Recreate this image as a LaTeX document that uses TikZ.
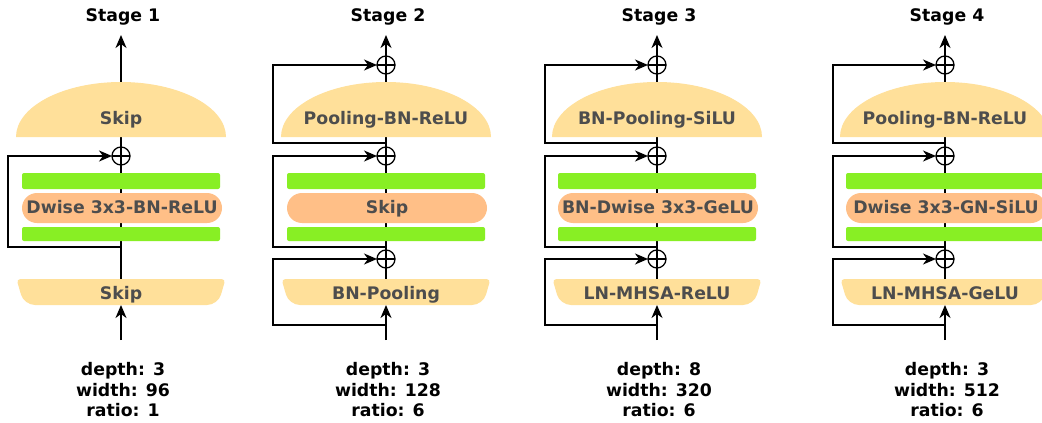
\documentclass[tikz,border=0pt]{standalone}
\usepackage{fontspec}
\setmainfont{DejaVu Sans}
\usetikzlibrary{arrows.meta}

\pgfdeclarelayer{paper}
\pgfdeclarelayer{wires}
\pgfsetlayers{paper,wires,main}

\definecolor{domefill}{HTML}{FFE09A}
\definecolor{pillfill}{HTML}{FFBF87}
\definecolor{barfill}{HTML}{88EF24}
\definecolor{labgray}{HTML}{4D4D4D}

\begin{document}
\begin{tikzpicture}[x=1pt,y=-1pt,
  every node/.style={inner sep=0pt, outer sep=0pt},
  boldtext/.style={font=\fontsize{17.3}{20.5}\selectfont\bfseries},
  headtext/.style={boldtext, text=black, anchor=base},
  labtext/.style={boldtext, text=labgray, anchor=base},
  stattext/.style={boldtext, text=black, align=center},
  wire/.style={line width=1.5pt, -{Stealth[length=13pt,width=11pt,inset=4pt]}},
  plainwire/.style={line width=1.5pt},
  sum/.style={circle, draw, line width=1.3pt, minimum size=18pt,
    path picture={\draw[line width=1.3pt]
      (path picture bounding box.north) -- (path picture bounding box.south)
      (path picture bounding box.west) -- (path picture bounding box.east);}},
  hull/.style={rectangle},
  barbox/.style={fill=barfill, rounded corners=2pt, minimum width=198pt},
  pillbox/.style={fill=pillfill, rounded corners=15pt, minimum width=200pt, minimum height=30pt},
]
\useasboundingbox (0,0) rectangle (1042,423);
\begin{pgfonlayer}{paper}
  \fill[white] (0,0) rectangle (1042,423);
\end{pgfonlayer}
\clip (0,0) rectangle (1042,423);

% one column per stage: title, top block, two bars round the middle block, bottom block, settings
\foreach \i/\cx/\dtxt/\ptxt/\btxt/\dep/\wid/\rat in {
  1/121/Skip/Dwise 3x3-BN-ReLU/Skip/3/96/1,
  2/386/Pooling-BN-ReLU/Skip/BN-Pooling/3/128/6,
  3/657/BN-Pooling-SiLU/BN-Dwise 3x3-GeLU/LN-MHSA-ReLU/8/320/6,
  4/945/Pooling-BN-ReLU/Dwise 3x3-GN-SiLU/LN-MHSA-GeLU/3/512/6}
{
  \node[headtext] (title\i) at (\cx+2,21) {Stage \i};

  % dome-shaped top block
  \fill[domefill] (\cx-105,137) arc[start angle=180, end angle=0, x radius=105pt, y radius=55pt] -- cycle;
  \node[hull, minimum width=210pt, minimum height=55pt] (dome\i) at (\cx,109.5) {};
  \node[labtext] (domelab\i) at (\cx,124) {\dtxt};

  % middle block between two bars
  \node[barbox, minimum height=16pt] (barA\i) at (\cx,181) {};
  \node[pillbox] (pill\i) at (\cx+1,208) {};
  \node[labtext] (pilllab\i) at (\cx+1,213.3) {\ptxt};
  \node[barbox, minimum height=14pt] (barB\i) at (\cx,234) {};

  % tapered bottom block
  \fill[domefill] (\cx,279) [rounded corners=4pt] -- (\cx+104.5,279)
    [rounded corners=11pt] -- (\cx+97,305) -- (\cx-97,305)
    [rounded corners=4pt] -- (\cx-104.5,279) -- cycle;
  \node[hull, minimum width=209pt, minimum height=26pt] (base\i) at (\cx,292) {};
  \node[labtext] (baselab\i) at (\cx,299) {\btxt};

  \node[stattext] (stats\i) at (\cx+2,390) {depth: \dep\\width: \wid\\ratio: \rat};
}

% adders
\node[sum] (sumB1) at (121,156) {};
\foreach \i/\cx in {2/386, 3/657, 4/945}{
  \node[sum] (sumA\i) at (\cx,65) {};
  \node[sum] (sumB\i) at (\cx,156) {};
  \node[sum] (sumC\i) at (\cx,259) {};
}

\begin{pgfonlayer}{wires}
  % stage 1: single residual round the middle block
  \coordinate (out1) at (121,35);
  \coordinate (in1) at (121,340);
  \coordinate (jB1) at (121,247);
  \coordinate (kB1) at (8,247);
  \draw[wire] (sumB1) -- (out1);
  \draw[wire] (in1) -- (base1);
  \draw[plainwire] (base1) -- (sumB1);
  \draw[wire] (jB1) -- (kB1) |- (sumB1);

  % stages 2-4: a residual round every block
  \foreach \i/\cx/\lx in {2/386/273, 3/657/545, 4/945/833}{
    \coordinate (out\i) at (\cx,35);
    \coordinate (in\i) at (\cx,340);
    \coordinate (jA\i) at (\cx,143);
    \coordinate (kA\i) at (\lx,143);
    \coordinate (jB\i) at (\cx,247);
    \coordinate (kB\i) at (\lx,247);
    \coordinate (jC\i) at (\cx,325);
    \coordinate (kC\i) at (\lx,325);
    \draw[wire] (sumA\i) -- (out\i);
    \draw[plainwire] (sumB\i) -- (sumA\i);
    \draw[plainwire] (sumC\i) -- (sumB\i);
    \draw[plainwire] (base\i) -- (sumC\i);
    \draw[wire] (in\i) -- (base\i);
    \draw[wire] (jA\i) -- (kA\i) |- (sumA\i);
    \draw[wire] (jB\i) -- (kB\i) |- (sumB\i);
    \draw[wire] (jC\i) -- (kC\i) |- (sumC\i);
  }
\end{pgfonlayer}
\end{tikzpicture}
\end{document}
